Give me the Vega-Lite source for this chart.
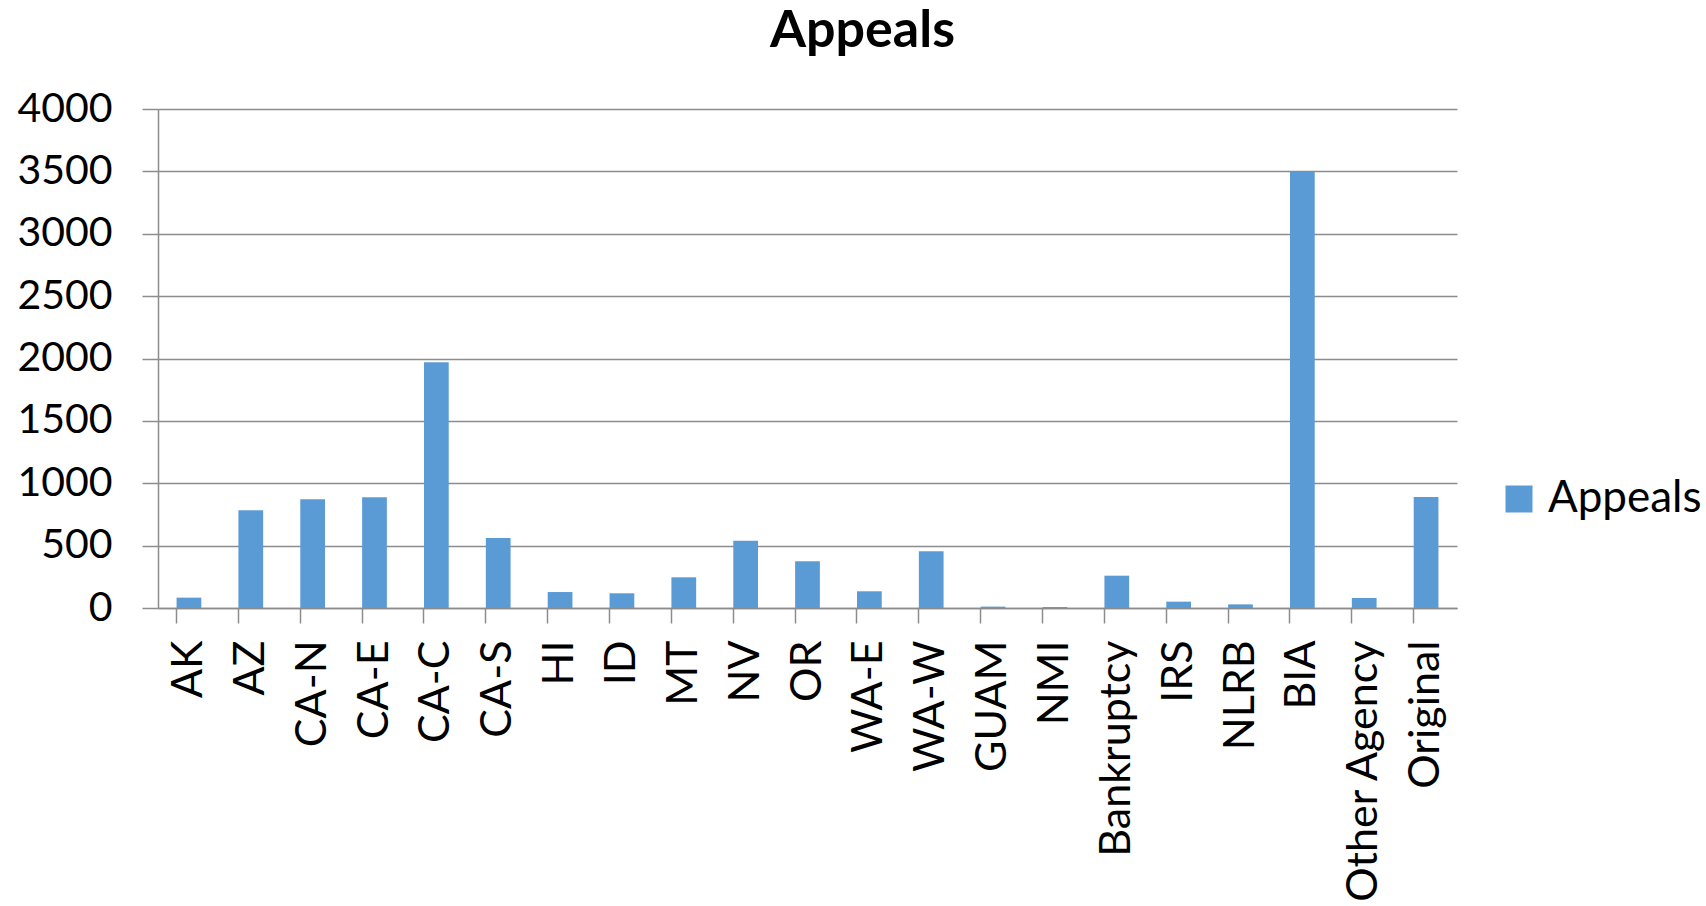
{
  "$schema": "https://vega.github.io/schema/vega-lite/v6.json",
  "width": 1299,
  "height": 499,
  "autosize": {"type": "none"},
  "padding": {"left": 158, "top": 109, "right": 249, "bottom": 298},
  "background": "white",
  "title": {
    "text": "Appeals",
    "fontSize": 52,
    "fontWeight": "bold",
    "font": "Lato",
    "color": "black",
    "anchor": "middle",
    "dx": 55,
    "offset": 30
  },
  "data": {
    "values": [
      {"court": "AK", "appeals": 83, "series": "Appeals"},
      {"court": "AZ", "appeals": 783, "series": "Appeals"},
      {"court": "CA-N", "appeals": 872, "series": "Appeals"},
      {"court": "CA-E", "appeals": 888, "series": "Appeals"},
      {"court": "CA-C", "appeals": 1970, "series": "Appeals"},
      {"court": "CA-S", "appeals": 561, "series": "Appeals"},
      {"court": "HI", "appeals": 128, "series": "Appeals"},
      {"court": "ID", "appeals": 118, "series": "Appeals"},
      {"court": "MT", "appeals": 246, "series": "Appeals"},
      {"court": "NV", "appeals": 540, "series": "Appeals"},
      {"court": "OR", "appeals": 374, "series": "Appeals"},
      {"court": "WA-E", "appeals": 134, "series": "Appeals"},
      {"court": "WA-W", "appeals": 455, "series": "Appeals"},
      {"court": "GUAM", "appeals": 11, "series": "Appeals"},
      {"court": "NMI", "appeals": 8, "series": "Appeals"},
      {"court": "Bankruptcy", "appeals": 259, "series": "Appeals"},
      {"court": "IRS", "appeals": 51, "series": "Appeals"},
      {"court": "NLRB", "appeals": 29, "series": "Appeals"},
      {"court": "BIA", "appeals": 3495, "series": "Appeals"},
      {"court": "Other Agency", "appeals": 80, "series": "Appeals"},
      {"court": "Original", "appeals": 890, "series": "Appeals"}
    ]
  },
  "mark": {"type": "bar"},
  "encoding": {
    "x": {
      "field": "court",
      "type": "nominal",
      "sort": null,
      "title": null,
      "scale": {"paddingInner": 0.6, "paddingOuter": 0.3},
      "axis": {
        "labelAngle": -90,
        "labelFontSize": 43,
        "labelFont": "Lato",
        "labelColor": "black",
        "labelPadding": 17,
        "labelLimit": 0,
        "bandPosition": 0,
        "tickSize": 15,
        "tickColor": "#8c8c8c",
        "tickWidth": 1.5,
        "domainColor": "#8c8c8c",
        "domainWidth": 1.5,
        "grid": false,
        "labelOverlap": false
      }
    },
    "y": {
      "field": "appeals",
      "type": "quantitative",
      "title": null,
      "scale": {"domain": [0, 4000], "nice": false},
      "axis": {
        "values": [0, 500, 1000, 1500, 2000, 2500, 3000, 3500, 4000],
        "format": "d",
        "labelFontSize": 41,
        "labelFont": "Lato",
        "labelColor": "black",
        "labelPadding": 30,
        "tickSize": 16,
        "tickColor": "#8c8c8c",
        "tickWidth": 1.5,
        "domainColor": "#8c8c8c",
        "domainWidth": 1.5,
        "grid": true,
        "gridColor": "#8c8c8c",
        "gridWidth": 1.5,
        "labelOverlap": false
      }
    },
    "color": {
      "field": "series",
      "type": "nominal",
      "scale": {"range": ["#5B9BD5"]},
      "legend": {
        "title": null,
        "orient": "none",
        "legendX": 1339,
        "legendY": 368,
        "symbolType": "square",
        "symbolSize": 729,
        "symbolStrokeWidth": 0,
        "labelFontSize": 44,
        "labelFont": "Lato",
        "labelColor": "black",
        "labelOffset": 7,
        "labelLimit": 0
      }
    }
  },
  "config": {
    "font": "Lato",
    "view": {"stroke": null}
  }
}
